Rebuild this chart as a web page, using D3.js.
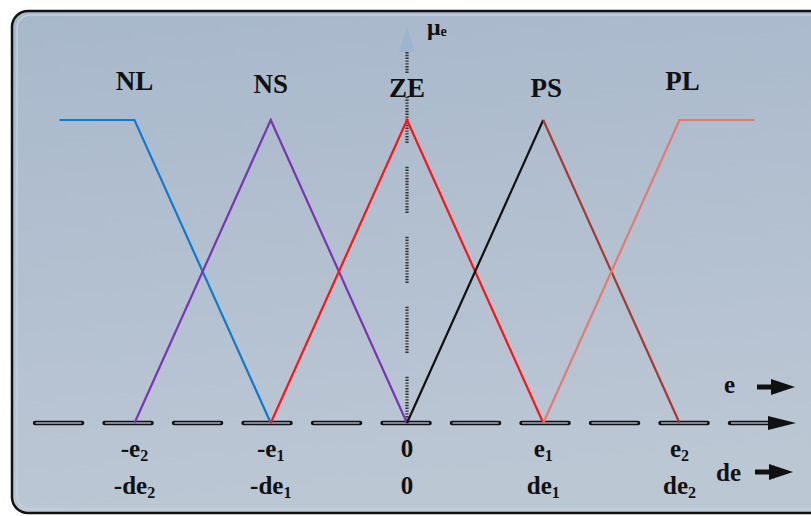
<!DOCTYPE html>
<html lang="en">
<head>
  <meta charset="UTF-8">
  <title>Fuzzy membership functions</title>
  <style>
    body { margin: 0; background: #fff; }
  </style>
</head>
<body>
  <svg id="svg" width="811" height="516" font-family="'Times New Roman', 'Liberation Serif', Times, serif" font-weight="bold"></svg>

  <script src="https://d3js.org/d3.v7.min.js"></script>
  <script>
    // ------ DATA ------------------------
    const setNames = ['NL', 'NS', 'ZE', 'PS', 'PL']
    const setPeaks = [-2, -1, 0, 1, 2]            // where each label sits
    const labelLift = [0, 3, 7, 7, 0]              // labels are not on one line
    // membership function corners [e, mu]
    const nlPoints = [[-2.55, 1], [-2, 1], [-1, 0]]
    const nsPoints = [[-2, 0], [-1, 1], [0, 0]]
    const zePoints = [[-1, 0], [0, 1], [1, 0]]
    const psLeft = [[0, 0], [1, 1]]
    const psRight = [[1, 1], [2, 0]]
    const plPoints = [[1, 0], [2, 1], [2.55, 1]]

    const tickValues = [-2, -1, 0, 1, 2]
    const eLabels = [['-e', '2'], ['-e', '1'], ['0', ''], ['e', '1'], ['e', '2']]
    const deLabels = [['-de', '2'], ['-de', '1'], ['0', ''], ['de', '1'], ['de', '2']]

    // ------ SCALES ------------------------
    const x = d3.scaleLinear().domain([-2, 2]).range([134.5, 679.5])
    const y = d3.scaleLinear().domain([0, 1]).range([423, 120])
    const axisStart = -2.73
    const axisEnd = 2.86

    const svg = d3.select('#svg')

    // background panel
    const defs = svg.append('defs')
    const grad = defs.append('linearGradient')
      .attr('id', 'bg').attr('x1', 0).attr('y1', 0).attr('x2', 0.15).attr('y2', 1)
    grad.append('stop').attr('offset', '0%').attr('stop-color', '#a8b8cb')
    grad.append('stop').attr('offset', '100%').attr('stop-color', '#bcc7d4')

    svg.append('rect')
      .attr('x', 12).attr('y', 11).attr('width', 830).attr('height', 502)
      .attr('rx', 16)
      .attr('fill', 'url(#bg)')
      .attr('stroke', '#111').attr('stroke-width', 2.5)
    svg.append('rect')
      .attr('x', 17).attr('y', 15).attr('width', 820).attr('height', 494)
      .attr('rx', 13)
      .attr('fill', 'none')
      .attr('stroke', '#c4d0de').attr('stroke-width', 1.5)

    // ------ HORIZONTAL AXIS (dashed double line) ------------------------
    const dashStep = 69.5 / (x(1) - x(0))
    const dashLen = 47 / (x(1) - x(0))
    const hDashes = d3.range(axisStart, axisEnd - 0.7, dashStep)
    const hGroup = svg.append('g')
    hDashes.forEach(d => {
      hGroup.append('line')
        .attr('x1', x(d)).attr('x2', x(d + dashLen))
        .attr('y1', y(0)).attr('y2', y(0))
        .attr('stroke', '#111').attr('stroke-width', 4.5).attr('stroke-linecap', 'round')
      hGroup.append('line')
        .attr('x1', x(d) + 1).attr('x2', x(d + dashLen) - 1)
        .attr('y1', y(0)).attr('y2', y(0))
        .attr('stroke', '#a3afbd').attr('stroke-width', 1.4).attr('stroke-linecap', 'round')
    })
    // last piece ends in the arrow
    const lastStart = axisStart + dashStep * hDashes.length
    hGroup.append('line')
      .attr('x1', x(lastStart)).attr('x2', 772)
      .attr('y1', y(0)).attr('y2', y(0))
      .attr('stroke', '#111').attr('stroke-width', 4.5).attr('stroke-linecap', 'round')
    hGroup.append('line')
      .attr('x1', x(lastStart) + 1).attr('x2', 772)
      .attr('y1', y(0)).attr('y2', y(0))
      .attr('stroke', '#a3afbd').attr('stroke-width', 1.4)
    hGroup.append('path')
      .attr('d', `M768,${y(0) - 7}L796,${y(0)}L768,${y(0) + 7}Z`)
      .attr('fill', '#111')

    // ------ VERTICAL AXIS (dotted dashes) ------------------------
    const vStep = 70 / (y(0) - y(1))
    const vLen = 47 / (y(0) - y(1))
    const vDashes = d3.range(0, 1.32, vStep)
    const vGroup = svg.append('g')
    vDashes.forEach(d => {
      const top = Math.min(d + vLen, 1.23)
      vGroup.append('line')
        .attr('x1', x(0)).attr('x2', x(0))
        .attr('y1', y(d)).attr('y2', y(top))
        .attr('stroke', '#333').attr('stroke-width', 3.2)
        .attr('stroke-dasharray', '1.4,1.4')
    })
    vGroup.append('path')
      .attr('d', `M${x(0) - 8},52L${x(0)},26L${x(0) + 8},52Z`)
      .attr('fill', '#9fb4d0')
    const mu = svg.append('text').attr('x', 427).attr('y', 35).attr('font-size', 24).attr('fill', '#111')
    mu.append('tspan').text('μ')
    mu.append('tspan').text('e').attr('font-size', 14).attr('dy', 1)

    // ------ MEMBERSHIP FUNCTIONS ------------------------
    const line = d3.line().x(d => x(d[0])).y(d => y(d[1]))
    const curves = [
      { pts: nlPoints, color: '#0f7ad2' },
      { pts: nsPoints, color: '#7b33b8' },
      { pts: zePoints, color: '#ff1414' },
      { pts: psLeft, color: '#111111' },
      { pts: psRight, color: '#a8392f' },
      { pts: plPoints, color: '#e47a70' }
    ]
    svg.append('g').selectAll('path')
      .data(curves)
      .join('path')
      .attr('d', d => line(d.pts))
      .attr('fill', 'none')
      .attr('stroke', d => d.color)
      .attr('stroke-width', 2.2)

    // ------ LABELS ------------------------
    svg.append('g').selectAll('text')
      .data(setNames)
      .join('text')
      .attr('x', (d, i) => x(setPeaks[i]) + (i > 2 ? 3 : 0))
      .attr('y', (d, i) => 90 + labelLift[i])
      .attr('text-anchor', 'middle')
      .attr('font-size', 27)
      .attr('fill', '#111')
      .text(d => d)

    function tickRow(labels, baseline) {
      const t = svg.append('g').selectAll('text')
        .data(labels)
        .join('text')
        .attr('x', (d, i) => x(tickValues[i]))
        .attr('y', baseline)
        .attr('text-anchor', 'middle')
        .attr('font-size', 25)
        .attr('fill', '#111')
      t.append('tspan').text(d => d[0])
      t.append('tspan').text(d => d[1]).attr('font-size', 16).attr('dy', 4)
    }
    tickRow(eLabels, 457)
    tickRow(deLabels, 494)

    // axis names with arrows
    svg.append('text').attr('x', 724).attr('y', 393).attr('font-size', 25).attr('fill', '#111').text('e')
    svg.append('text').attr('x', 716).attr('y', 481).attr('font-size', 25).attr('fill', '#111').text('de')
    const arrowAt = [[757, 387], [755, 472]]
    arrowAt.forEach(a => {
      svg.append('line')
        .attr('x1', a[0]).attr('x2', a[0] + 18).attr('y1', a[1]).attr('y2', a[1])
        .attr('stroke', '#111').attr('stroke-width', 5)
      svg.append('path')
        .attr('d', `M${a[0] + 14},${a[1] - 8}L${a[0] + 38},${a[1]}L${a[0] + 14},${a[1] + 8}Z`)
        .attr('fill', '#111')
    })
  </script>
</body>
</html>
